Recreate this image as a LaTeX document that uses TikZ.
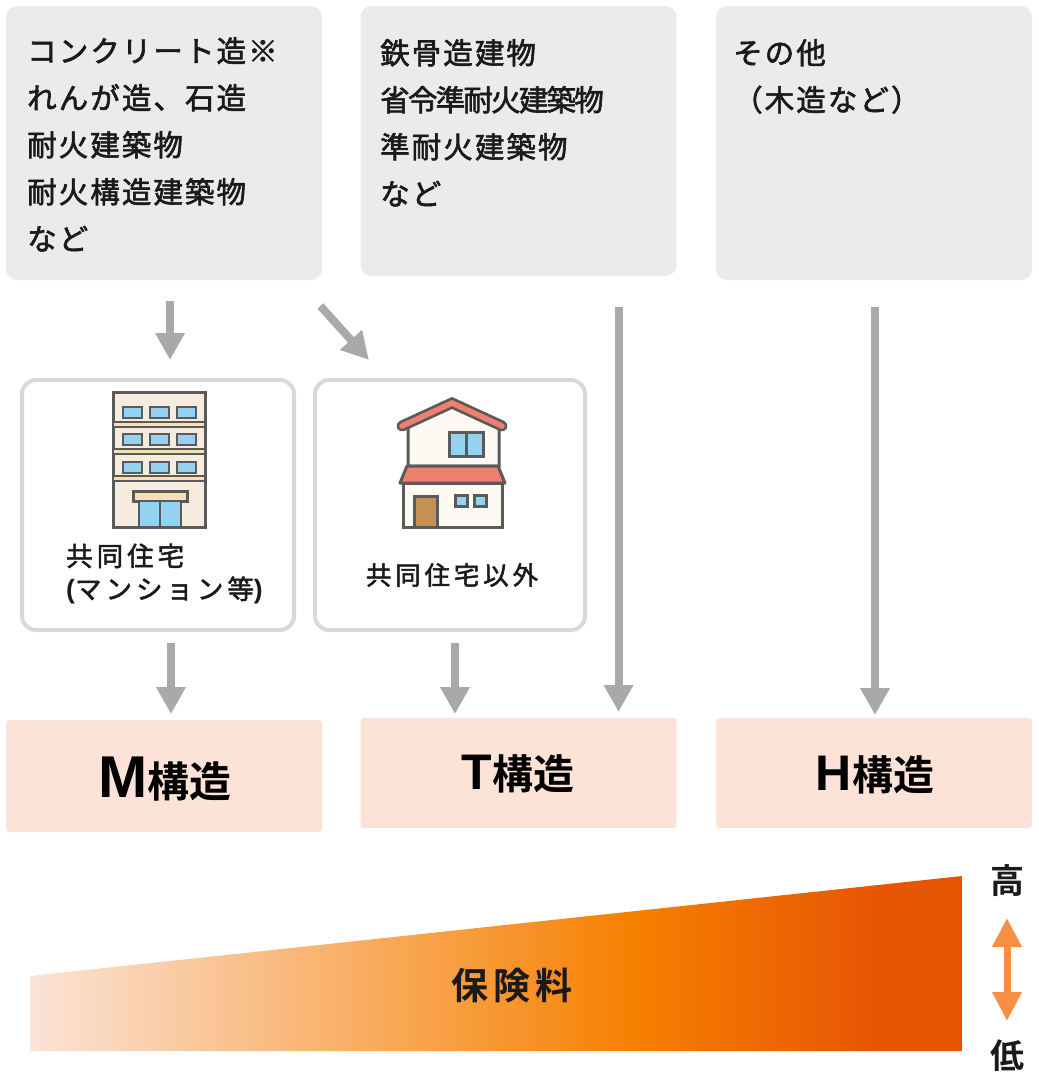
\documentclass[tikz,border=0pt]{standalone}
\usepackage{fontspec}
\usepackage{xcolor}
\setmainfont{Liberation Sans}
\newfontfamily\jpfont[LetterSpace=7,FakeBold=2]{Noto Sans CJK JP}
\newfontfamily\jpsmall[LetterSpace=15,FakeBold=2]{Noto Sans CJK JP}
\newfontfamily\jpbold[BoldFont={Noto Sans CJK JP Bold}]{Noto Sans CJK JP}
\newfontfamily\jpheavy[LetterSpace=13]{Noto Sans CJK JP Bold}
\usetikzlibrary{arrows.meta,
	calc,
	positioning}
\definecolor{boxgray}{HTML}{EBEBEB}
\definecolor{rimgray}{HTML}{D9D9D9}
\definecolor{flowgray}{HTML}{A9A9A9}
\definecolor{resultpink}{HTML}{FDE3D7}
\definecolor{inkdark}{HTML}{1A1A1A}
\definecolor{iconline}{HTML}{5A5A5A}
\definecolor{wallcream}{HTML}{F5ECDF}
\definecolor{wallwhite}{HTML}{FDFAF3}
\definecolor{glass}{HTML}{93D2F0}
\definecolor{awning}{HTML}{F6DFB5}
\definecolor{roofred}{HTML}{F07F6E}
\definecolor{doorbrown}{HTML}{C49153}
\definecolor{rangeorange}{HTML}{F98F45}
\definecolor{gradstart}{HTML}{FBE3D6}
\definecolor{gradmid}{HTML}{F68000}
\definecolor{gradend}{HTML}{E65504}
\pgfdeclarehorizontalshading{premium}{100bp}{color(0bp)=(gradstart); color(25bp)=(gradstart); color(57.5bp)=(gradmid); color(70.5bp)=(gradend); color(100bp)=(gradend)}
\tikzstyle{cls}=[fill=boxgray, rounded corners=11pt, inner sep=0, outer sep=0, minimum width=316pt]
\tikzstyle{clstext}=[anchor=north west, align=left, inner sep=0, text=inkdark, font=\jpfont\fontsize{29.5}{47}\selectfont]
\tikzstyle{usebox}=[draw=rimgray, line width=4pt, fill=white, rounded corners=14pt, inner sep=0, outer sep=0, minimum height=250pt]
\tikzstyle{usetext}=[align=left, inner sep=0, text=inkdark, font=\jpsmall\fontsize{25.5}{33}\selectfont]
\tikzstyle{res}=[fill=resultpink, rounded corners=3pt, inner sep=0, outer sep=0, minimum width=316pt]
\tikzstyle{restext}=[inner sep=0, text=black, font=\bfseries\fontsize{50}{50}\selectfont]
\tikzstyle{flow}=[draw=flowgray, line width=8pt, -{Triangle[length=27pt,width=28pt]}]
\tikzstyle{rangearrow}=[draw=rangeorange, line width=7pt, {Triangle[length=29pt,width=28pt]}-{Triangle[length=29pt,width=28pt]}]
\tikzstyle{ends}=[inner sep=0, text=inkdark, font=\jpbold\bfseries\fontsize{34}{34}\selectfont]
\tikzstyle{icon}=[draw=iconline, line width=3pt]
\begin{document}
\begin{tikzpicture}[x=1pt,y=-1pt]
    \useasboundingbox (0,0) rectangle (1038,1086);
    % upper row
    \node[cls, minimum height=274pt] (rc) at (164,143) {};
    \node[cls, minimum height=270pt] (steel) at (518.5,141) {};
    \node[cls, minimum height=274pt] (other) at (874,143) {};
    \node[clstext] (rctext) at (27,37) {コンクリート造※\\れんが造、石造\\耐火建築物\\耐火構造建築物\\など};
    \node[clstext] (steeltext) at (380,39) {鉄骨造建物\\{\addfontfeature{LetterSpace=-6}省令準耐火建築物}\\準耐火建築物\\など};
    \node[clstext] (othertext) at (733,39) {その他\\（木造など）};
    % usage
    \node[usebox, minimum width=272pt] (apt) at (158,505) {};
    \node[usebox, minimum width=270pt] (house) at (450,505) {};
    \node[usetext, font=\jpsmall\fontsize{26.5}{33}\selectfont] (apttext) at (164.5,574) {共同住宅\\{\bfseries\rmfamily(}マンション等{\bfseries\rmfamily)}};
    \node[usetext] (housetext) at (452,575) {共同住宅以外};
    % flat block
    \draw[icon, fill=wallcream] (113,392) rectangle (205,527);
    \foreach \y/\b in {407/422,434/449,462/476} {
        \foreach \x in {123,150,177} {
            \draw[icon, line width=2.5pt, fill=glass] (\x,\y) rectangle ++(19,11);
        }
        \draw[icon, line width=2.5pt, fill=awning] (113,\b) rectangle (205,\b+5);
    }
    \draw[icon, fill=awning] (133,491) rectangle (187,501);
    \draw[icon, line width=2.5pt, fill=glass] (139,501) rectangle (181,527);
    \draw[icon, line width=2.5pt] (160,501) -- (160,527);
    % detached house
    \draw[icon, fill=wallwhite] (408,425) -- (452,404) -- (499,425) -- (499,466) -- (408,466) -- cycle;
    \draw[iconline, line width=11pt, line cap=round, line join=miter] (402,426) -- (452,403) -- (502,426);
    \draw[roofred, line width=5.5pt, line cap=round, line join=miter] (402,426) -- (452,403) -- (502,426);
    \draw[icon, fill=glass] (449,432) rectangle (483,456);
    \draw[icon] (466,432) -- (466,456);
    \draw[icon, fill=wallwhite] (403,483) rectangle (502,527);
    \draw[icon, fill=roofred, line join=round] (407,466) -- (498,466) -- (505,483) -- (400,483) -- cycle;
    \draw[icon, fill=doorbrown] (414,496) rectangle (437,527);
    \draw[icon, fill=glass] (455,495) rectangle (467,506);
    \draw[icon, fill=glass] (474,495) rectangle (486,506);
    % results
    \node[res, minimum height=112pt] (mtype) at (164,776) {};
    \node[res, minimum height=110pt] (ttype) at (518.5,773) {};
    \node[res, minimum height=110pt] (htype) at (874,773) {};
    \node[restext] (mtext) at (165,779) {{\fontsize{59}{59}\selectfont M}{\jpbold\fontsize{42}{42}\selectfont 構造}};
    \node[restext] (ttext) at (518,774) {T{\jpbold\fontsize{41}{41}\selectfont 構造}};
    \node[restext] (htext) at (875,775) {H{\jpbold\fontsize{41}{41}\selectfont 構造}};
    % connectors
    \draw[flow, shorten <=21pt, shorten >=20pt] ([xshift=6pt]rc.south) -- ([xshift=12pt]apt.north);
    \draw[flow, shorten <=35pt, shorten >=27pt] ([xshift=-25pt]rc.south east) -- ([xshift=72pt]house.north west);
    \draw[flow, shorten <=13pt, shorten >=6pt] ([xshift=13pt]apt.south) -- ([xshift=13pt]apt.south |- mtype.north);
    \draw[flow, shorten <=13pt, shorten >=4pt] ([xshift=5pt]house.south) -- ([xshift=5pt]house.south |- ttype.north);
    \draw[flow, shorten <=31pt, shorten >=6pt] ([xshift=100pt]steel.south) -- ([xshift=100pt]ttype.north);
    \draw[flow, shorten <=27pt, shorten >=3pt] ([xshift=1pt]other.south) -- ([xshift=1pt]htype.north);
    % premium wedge
    \shade[shading=premium] (30,976) -- (962,876) -- (962,1051) -- (30,1051) -- cycle;
    \node[inner sep=0, text=inkdark, font=\jpheavy\fontsize{37}{37}\selectfont] (premiumtext) at (512,986) {保険料};
    \node[ends] (high) at (1007,881) {高};
    \node[ends] (low) at (1007,1056) {低};
    \draw[rangearrow, shorten <=37pt, shorten >=35pt] (high.center) -- (low.center);
\end{tikzpicture}
\end{document}
